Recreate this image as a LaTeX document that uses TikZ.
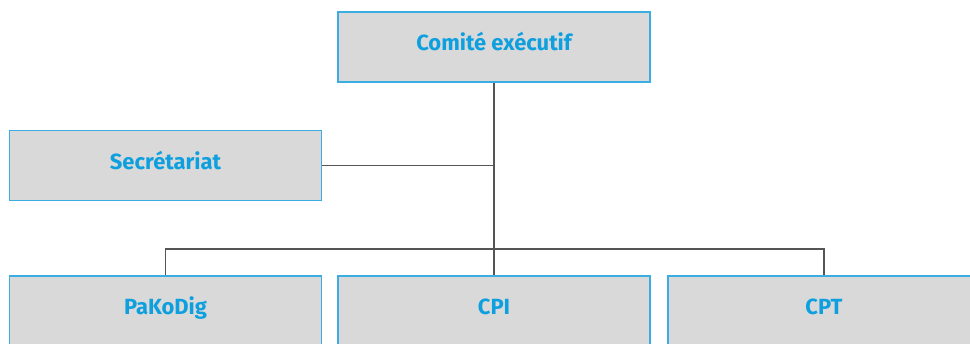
\documentclass[tikz,border=0pt]{standalone}
\usepackage{fontspec}
\setmainfont{Fira Sans}
\usetikzlibrary{positioning}
\definecolor{boxblue}{HTML}{3AAEE2}
\definecolor{boxgray}{HTML}{D9D9D9}
\definecolor{textblue}{HTML}{0EA0DE}
\definecolor{linegray}{HTML}{555555}
\begin{document}
\begin{tikzpicture}[x=0.02cm,y=-0.02cm,
    box/.style={draw=boxblue,fill=boxgray,line width=0.7pt,minimum width=6.24cm,minimum height=1.4cm,inner sep=0pt,
      text height=0.7em,text depth=0.3em,
      text=textblue,font=\fontsize{12.5}{14}\selectfont\bfseries},
    link/.style={draw=linegray,line width=0.9pt}]
  \useasboundingbox (0,0) rectangle (970,343);
  \clip (0,0) rectangle (970,343);
  \node[box] (CE)  at (494,47)      {Comité exécutif};
  \node[box] (Sec) at (165.5,165.5) {Secrétariat};
  \node[box] (PKD) at (165.5,311)   {PaKoDig};
  \node[box] (CPI) at (494,311)     {CPI};
  \node[box] (CPT) at (824,311)     {CPT};
  \coordinate (bus) at (494,249);
  \draw[link] (CE) -- (bus);
  \draw[link] (Sec.east) -- (Sec.east -| CE.south);
  \draw[link] (PKD.north) |- (bus) -| (CPT.north);
  \draw[link] (bus) -- (CPI.north);
\end{tikzpicture}
\end{document}
